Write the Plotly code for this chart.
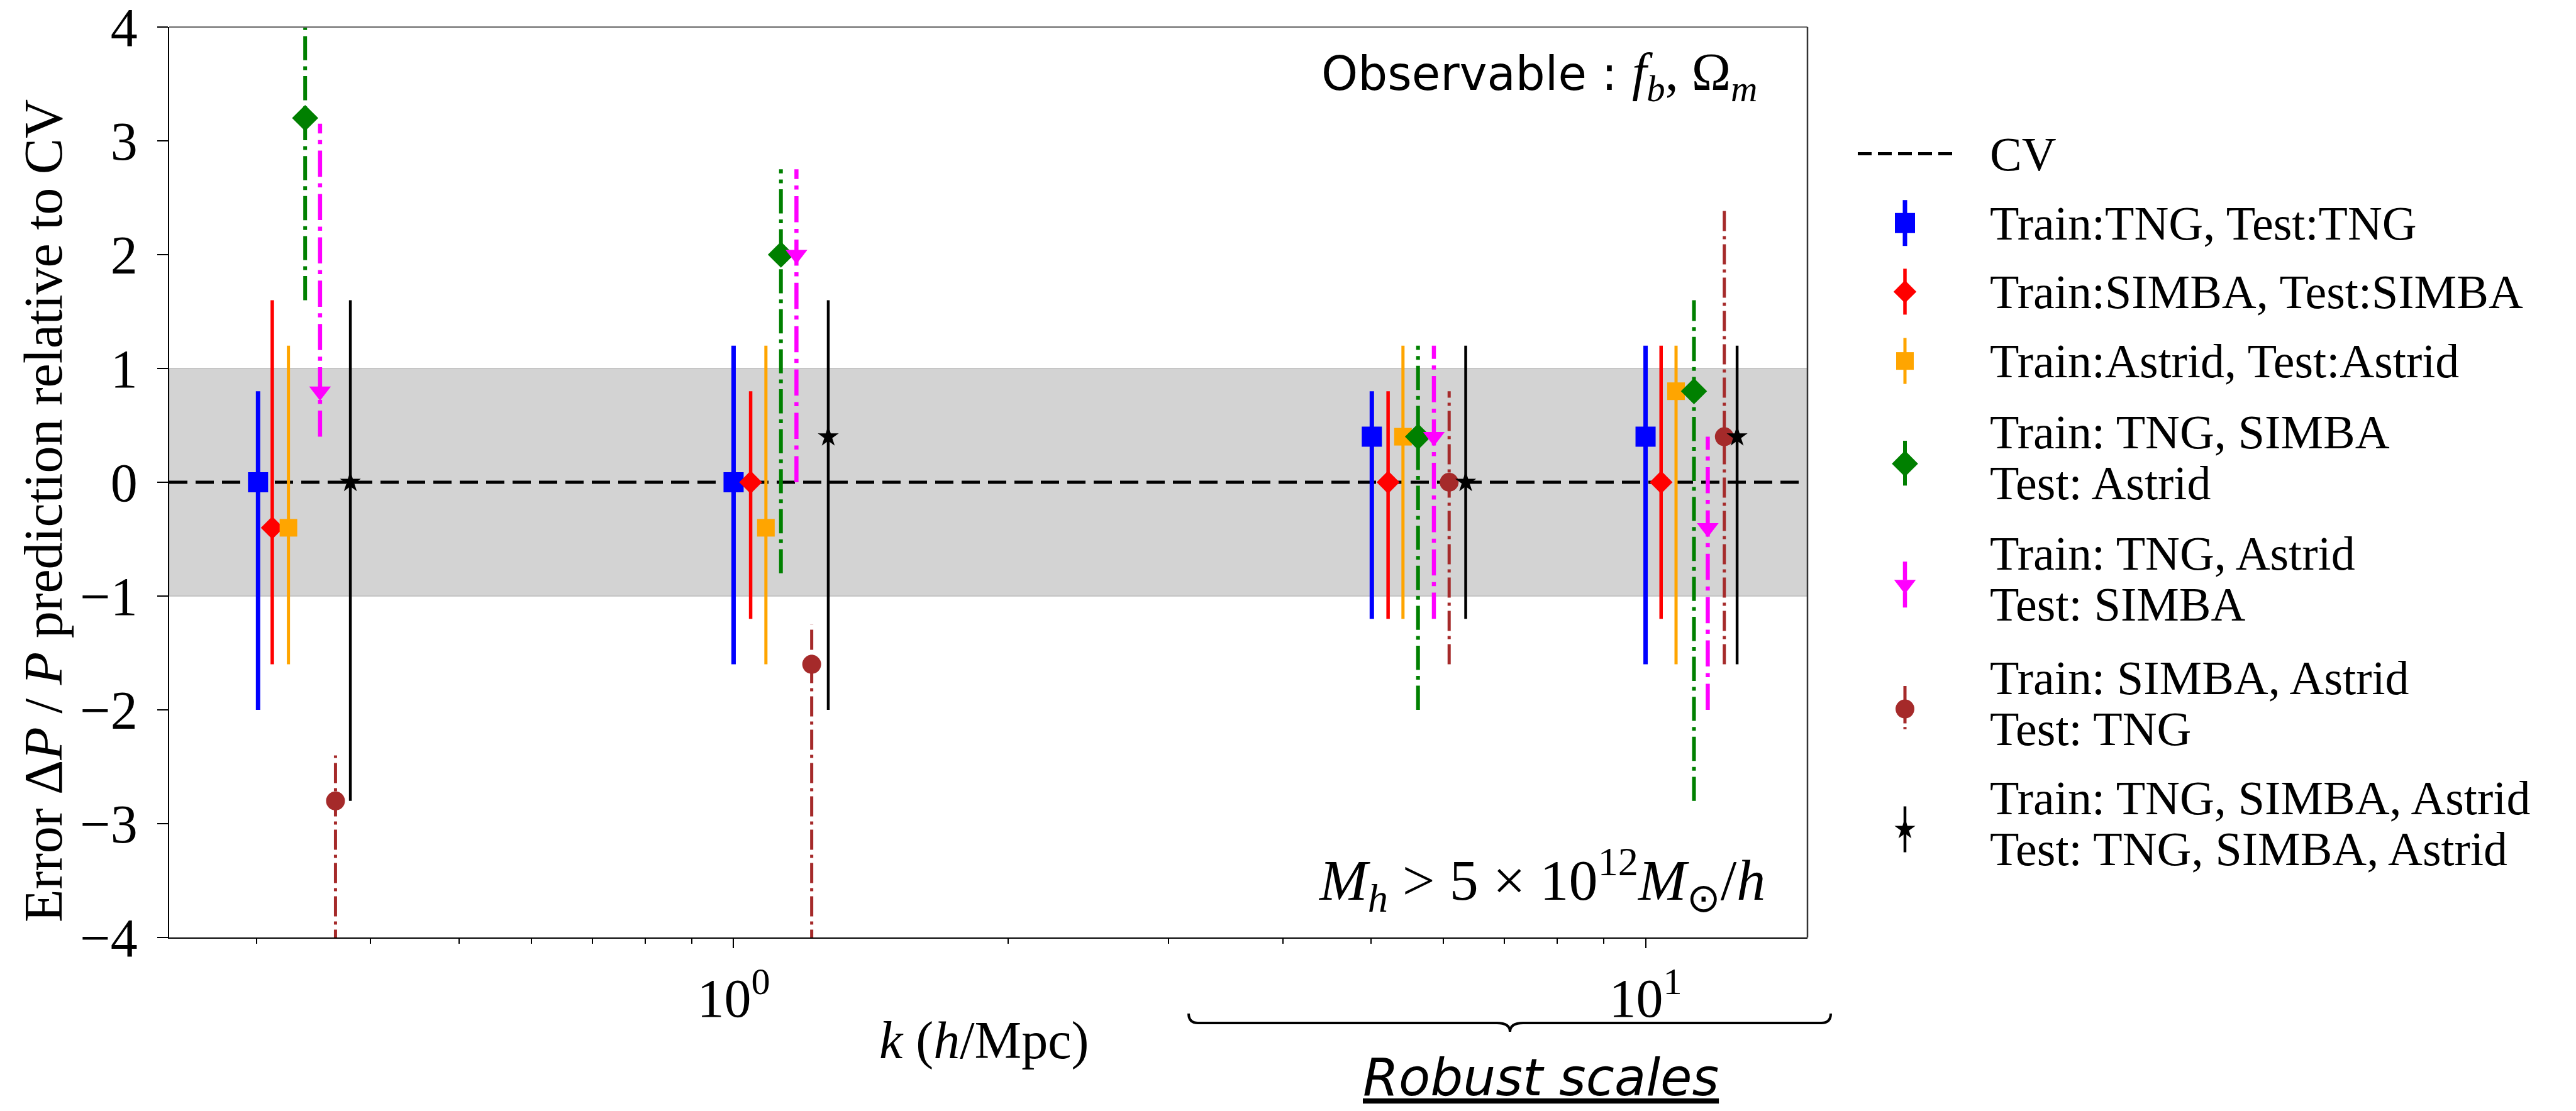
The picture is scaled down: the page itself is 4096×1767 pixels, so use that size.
import math
import plotly.graph_objects as go

# ---------------- data ----------------
k_limits = [0.2405, 15.05]
y_limits = [-4, 4]
band_limits = [-1, 1]
cv_level = [0, 0]

y_ticks = [-4, -3, -2, -1, 0, 1, 2, 3, 4]
y_tick_text = ["−4", "−3", "−2", "−1", "0", "1", "2", "3", "4"]
x_ticks = [1, 10]
x_tick_text = ["10<sup>0</sup>", "10<sup>1</sup>"]
x_minor_ticks = [0.3, 0.4, 0.5, 0.6, 0.7, 0.8, 0.9, 2, 3, 4, 5, 6, 7, 8, 9]

cv_label = "CV"
labels = [
    "Train:TNG, Test:TNG",
    "Train:SIMBA, Test:SIMBA",
    "Train:Astrid, Test:Astrid",
    "Train: TNG, SIMBA<br>Test: Astrid",
    "Train: TNG, Astrid<br>Test: SIMBA",
    "Train: SIMBA, Astrid<br>Test: TNG",
    "Train: TNG, SIMBA, Astrid<br>Test: TNG, SIMBA, Astrid",
]

k_tng = [0.301, 1.000, 5.01, 10.0]
val_tng = [0.0, 0.0, 0.4, 0.4]
lo_tng = [-2.0, -1.6, -1.2, -1.6]
hi_tng = [0.8, 1.2, 0.8, 1.2]

k_simba = [0.312, 1.044, 5.22, 10.4]
val_simba = [-0.4, 0.0, 0.0, 0.0]
lo_simba = [-1.6, -1.2, -1.2, -1.2]
hi_simba = [1.6, 0.8, 0.8, 1.2]

k_astrid = [0.325, 1.085, 5.42, 10.8]
val_astrid = [-0.4, -0.4, 0.4, 0.8]
lo_astrid = [-1.6, -1.6, -1.2, -1.6]
hi_astrid = [1.2, 1.2, 1.2, 1.2]

k_ts_a = [0.339, 1.127, 5.63, 11.3]
val_ts_a = [3.2, 2.0, 0.4, 0.8]
lo_ts_a = [1.6, -0.8, -2.0, -2.8]
hi_ts_a = [4.8, 2.75, 1.2, 1.6]

k_ta_s = [0.352, 1.172, 5.86, 11.7]
val_ta_s = [0.8, 2.0, 0.4, -0.4]
lo_ta_s = [0.4, 0.0, -1.2, -2.0]
hi_ta_s = [3.15, 2.75, 1.2, 0.4]

k_sa_t = [0.366, 1.218, 6.09, 12.2]
val_sa_t = [-2.8, -1.6, 0.0, 0.4]
lo_sa_t = [-4.4, -4.4, -1.6, -1.6]
hi_sa_t = [-2.4, -1.25, 0.8, 2.4]

k_all = [0.380, 1.270, 6.35, 12.6]
val_all = [0.0, 0.4, 0.0, 0.4]
lo_all = [-2.8, -2.0, -1.2, -1.6]
hi_all = [1.6, 1.6, 1.2, 1.2]

# ---------------- styles ----------------
series = [
    dict(k=k_tng, v=val_tng, lo=lo_tng, hi=hi_tng, color="#0000ff", symbol="square", size=32, lw=7, dashed=False),
    dict(k=k_simba, v=val_simba, lo=lo_simba, hi=hi_simba, color="#ff0000", symbol="diamond", size=28, lw=5.5, dashed=False),
    dict(k=k_astrid, v=val_astrid, lo=lo_astrid, hi=hi_astrid, color="#ffa500", symbol="square", size=28, lw=5, dashed=False),
    dict(k=k_ts_a, v=val_ts_a, lo=lo_ts_a, hi=hi_ts_a, color="#008000", symbol="diamond", size=32, lw=6, dashed=True),
    dict(k=k_ta_s, v=val_ta_s, lo=lo_ta_s, hi=hi_ta_s, color="#ff00ff", symbol="triangle-down", size=30, lw=6.5, dashed=True),
    dict(k=k_sa_t, v=val_sa_t, lo=lo_sa_t, hi=hi_sa_t, color="#a52a2a", symbol="circle", size=30, lw=5, dashed=True),
    dict(k=k_all, v=val_all, lo=lo_all, hi=hi_all, color="#000000", symbol="star", size=25, lw=4.5, dashed=False),
]

W, H = 4096, 1767
PL, PR, PT, PB = 269, 2874, 43, 1491          # plot area in pixels
SERIF = "Liberation Serif"
SANS = "DejaVu Sans"


def px(x):
    return x / W


def py(y):
    return 1 - y / H


def dash_for(w):
    return "%gpx,%gpx,%gpx,%gpx" % (6.4 * w, 1.6 * w, 1.0 * w, 1.6 * w)


fig = go.Figure()

# CV reference line
fig.add_trace(go.Scatter(
    x=k_limits, y=cv_level, mode="lines", showlegend=False,
    line=dict(color="black", width=5, dash="29px,13px"), hoverinfo="skip",
))

for s in series:
    mk = dict(color=s["color"], symbol=s["symbol"], size=s["size"], line=dict(width=0))
    if s["dashed"]:
        xs, ys = [], []
        for k, lo, hi in zip(s["k"], s["lo"], s["hi"]):
            xs += [k, k, None]
            ys += [lo, hi, None]
        fig.add_trace(go.Scatter(
            x=xs, y=ys, mode="lines", showlegend=False,
            line=dict(color=s["color"], width=s["lw"], dash=dash_for(s["lw"])), hoverinfo="skip",
        ))
        fig.add_trace(go.Scatter(x=s["k"], y=s["v"], mode="markers", showlegend=False, marker=mk))
    else:
        fig.add_trace(go.Scatter(
            x=s["k"], y=s["v"], mode="markers", showlegend=False, marker=mk,
            error_y=dict(
                type="data", symmetric=False,
                array=[h - v for h, v in zip(s["hi"], s["v"])],
                arrayminus=[v - l for l, v in zip(s["lo"], s["v"])],
                thickness=s["lw"], width=0, color=s["color"],
            ),
        ))

# ---------------- hand-built legend (pixel axes x2/y2) ----------------
leg_rows = [244.6, 354.7, 463.9, 574.1, 737.4, 929.7, 1127.6, 1319.0]
leg_sym_x = 3029
leg_line_x = [2954, 3104]
leg_text_x = 3161.6
leg_half_bar = 36.5
leg_font = 76
annotations = []

fig.add_trace(go.Scatter(
    x=leg_line_x, y=[leg_rows[0], leg_rows[0]], xaxis="x2", yaxis="y2", mode="lines",
    line=dict(color="black", width=5, dash="22px,10px"), showlegend=False, hoverinfo="skip",
))
annotations.append(dict(text=cv_label, xref="paper", yref="paper", x=px(leg_text_x), y=py(leg_rows[0]),
                        xanchor="left", yanchor="middle", showarrow=False,
                        font=dict(family=SERIF, size=leg_font, color="black")))

for s, lab, row in zip(series, labels, leg_rows[1:]):
    line = dict(color=s["color"], width=s["lw"])
    if s["dashed"]:
        line["dash"] = dash_for(s["lw"] * 0.7)
    fig.add_trace(go.Scatter(
        x=[leg_sym_x, leg_sym_x], y=[row - leg_half_bar, row + leg_half_bar], xaxis="x2", yaxis="y2",
        mode="lines", line=line, showlegend=False, hoverinfo="skip",
    ))
    fig.add_trace(go.Scatter(
        x=[leg_sym_x], y=[row], xaxis="x2", yaxis="y2", mode="markers", showlegend=False,
        marker=dict(color=s["color"], symbol=s["symbol"], size=s["size"], line=dict(width=0)),
        hoverinfo="skip",
    ))
    parts = lab.split("<br>")
    offsets = [0] if len(parts) == 1 else [-50, 31]
    for part, off in zip(parts, offsets):
        annotations.append(dict(text=part, xref="paper", yref="paper", x=px(leg_text_x), y=py(row + off),
                                xanchor="left", yanchor="middle", showarrow=False,
                                font=dict(family=SERIF, size=leg_font, color="black")))

# ---------------- brace ----------------
bx0, bx1, bxt = px(1890), px(2911), px(2401)
by_top, by_mid, by_tip = py(1612), py(1627), py(1641)
dxe, dxt = px(15), px(21)
brace = (
    f"M {bx0},{by_top} Q {bx0},{by_mid} {bx0 + dxe},{by_mid} "
    f"L {bxt - dxt},{by_mid} Q {bxt},{by_mid} {bxt},{by_tip} "
    f"Q {bxt},{by_mid} {bxt + dxt},{by_mid} "
    f"L {bx1 - dxe},{by_mid} Q {bx1},{by_mid} {bx1},{by_top}"
)

annotations += [
    dict(text="Error Δ<i>P</i> / <i>P</i> prediction relative to CV", xref="paper", yref="paper",
         x=px(69), y=py(813), xanchor="center", yanchor="middle", textangle=-90,
         showarrow=False, font=dict(family=SERIF, size=86, color="black")),
    dict(text="<i>k</i> (<i>h</i>/Mpc)", xref="paper", yref="paper",
         x=px(1565), y=py(1655), xanchor="center", yanchor="middle",
         showarrow=False, font=dict(family=SERIF, size=84, color="black")),
    dict(text="Observable : <span style=\"font-family:Liberation Serif;font-size:84px\"><i>f</i><sub><i>b</i></sub>, Ω<sub><i>m</i></sub></span>",
         xref="paper", yref="paper", x=px(2797), y=py(121), xanchor="right", yanchor="middle",
         showarrow=False, font=dict(family=SANS, size=74, color="black")),
    dict(text="<i>M</i><sub><i>h</i></sub> &gt; 5 × 10<sup>12</sup><i>M</i><sub>⊙</sub>/<i>h</i>",
         xref="paper", yref="paper", x=px(2809), y=py(1399), xanchor="right", yanchor="middle",
         showarrow=False, font=dict(family=SERIF, size=92, color="black")),
    dict(text="<u><i>Robust scales</i></u>", xref="paper", yref="paper",
         x=px(2450), y=py(1713), xanchor="center", yanchor="middle",
         showarrow=False, font=dict(family=SANS, size=82, color="black")),
]

fig.update_layout(
    width=W, height=H, template="none",
    margin=dict(l=0, r=0, t=0, b=0, pad=0, autoexpand=False),
    paper_bgcolor="white", plot_bgcolor="rgba(0,0,0,0)",
    font=dict(family=SERIF, color="black", size=72),
    showlegend=False,
    xaxis=dict(
        domain=[px(PL), px(PR)], anchor="y",
        type="log", range=[math.log10(k_limits[0]), math.log10(k_limits[1])],
        tickmode="array", tickvals=x_ticks, ticktext=x_tick_text,
        ticks="outside", ticklen=15, tickwidth=2, tickcolor="black",
        showline=True, linecolor="black", linewidth=2, mirror=False,
        showgrid=False, zeroline=False, automargin=False,
        tickfont=dict(family=SERIF, size=86, color="black"),
        ticklabelstandoff=6, ticklabeloverflow="allow",
        minor=dict(tickmode="array", tickvals=x_minor_ticks, ticks="outside",
                   ticklen=8, tickwidth=1.5, tickcolor="black", showgrid=False),
    ),
    yaxis=dict(
        domain=[py(PB), py(PT)], anchor="x",
        range=y_limits, tickmode="array", tickvals=y_ticks, ticktext=y_tick_text,
        ticks="outside", ticklen=17, tickwidth=2, tickcolor="black",
        showline=True, linecolor="black", linewidth=2, mirror=False,
        showgrid=False, zeroline=False, automargin=False,
        tickfont=dict(family=SERIF, size=86, color="black"),
        ticklabelstandoff=14, ticklabeloverflow="allow",
    ),
    xaxis2=dict(domain=[0, 1], range=[0, W], anchor="y2", visible=False, fixedrange=True),
    yaxis2=dict(domain=[0, 1], range=[H, 0], anchor="x2", visible=False, fixedrange=True),
    shapes=[
        dict(type="rect", xref="x domain", x0=0, x1=1, yref="y", y0=band_limits[0], y1=band_limits[1],
             fillcolor="#d3d3d3", line=dict(color="#bcbcbc", width=1.5), layer="below"),
        dict(type="line", xref="x domain", x0=0, x1=1, yref="y domain", y0=1, y1=1,
             line=dict(color="#666666", width=2), layer="above"),
        dict(type="line", xref="x domain", x0=1, x1=1, yref="y domain", y0=0, y1=1,
             line=dict(color="#333333", width=2.5), layer="above"),
        dict(type="path", xref="paper", yref="paper", path=brace,
             line=dict(color="black", width=4), layer="above"),
    ],
    annotations=annotations,
)

fig.write_html("out.html", post_script="document.body.style.margin='0';")
